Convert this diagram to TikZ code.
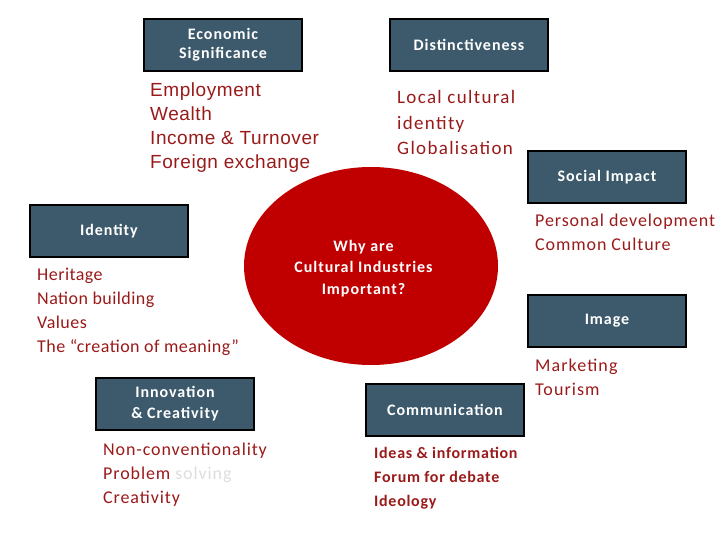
\documentclass[tikz,border=0pt]{standalone}
\usepackage{fontspec}
\setmainfont{Carlito}
\newfontfamily\arialf[LetterSpace=3]{Liberation Sans}
\usetikzlibrary{shapes.geometric}
\definecolor{boxfill}{HTML}{3D5A6C}
\definecolor{txtred}{HTML}{9A1A1A}
\definecolor{ellred}{HTML}{C00000}
\definecolor{lightg}{HTML}{DDDDDD}
\tikzset{
  topicbox/.style={draw=black, line width=1.6pt, fill=boxfill, minimum width=158pt, minimum height=52pt, inner sep=0pt, text=white, font=\fontsize{16}{19}\selectfont\bfseries\addfontfeature{LetterSpace=6}, align=center},
  itemtxt/.style={anchor=base west, inner sep=0pt, text=txtred},
}
\begin{document}
\begin{tikzpicture}[x=1pt,y=-1pt]
\useasboundingbox (0,0) rectangle (720,540);
% central ellipse
\node[ellipse, fill=ellred, minimum width=254pt, minimum height=198pt, inner sep=0pt] (core) at (371,266) {};
\node[text=white, font=\fontsize{16}{21.5}\selectfont\bfseries\addfontfeature{LetterSpace=6}, align=center, anchor=base, inner sep=0pt] (coretxt) at (363.5,294) {Why are\\Cultural Industries\\Important?};
% boxes
\node[topicbox] (econ) at (223,45) {Economic\\Significance};
\node[topicbox] (dist) at (469,45) {Distinctiveness};
\node[topicbox] (soc) at (607,177) {Social Impact};
\node[topicbox] (iden) at (109,231) {Identity};
\node[topicbox] (img) at (607,321) {Image};
\node[topicbox, font=\fontsize{16}{21}\selectfont\bfseries\addfontfeature{LetterSpace=6}] (inno) at (175,404) {Innovation\\\& Creativity};
\node[topicbox] (comm) at (445,410) {Communication};
% item lists
\foreach \t [count=\i from 0] in {Employment, Wealth, Income \& Turnover, Foreign exchange}
  \node[itemtxt, font=\arialf\fontsize{19}{22}\selectfont] (e\i) at (150,97+24*\i) {\t};
\foreach \t [count=\i from 0] in {Local cultural, identity, Globalisation}
  \node[itemtxt, font=\fontsize{19}{23}\selectfont\addfontfeature{LetterSpace=7}] (d\i) at (397,104+25.5*\i) {\t};
\foreach \t [count=\i from 0] in {Personal development, Common Culture}
  \node[itemtxt, font=\fontsize{18}{22}\selectfont\addfontfeature{LetterSpace=5}] (s\i) at (535,226+24*\i) {\t};
\foreach \t [count=\i from 0] in {Heritage, Nation building, Values, The “creation of meaning”}
  \node[itemtxt, font=\fontsize{18}{22}\selectfont\addfontfeature{LetterSpace=2.5}] (h\i) at (37,280+24*\i) {\t};
\foreach \t [count=\i from 0] in {Marketing, Tourism}
  \node[itemtxt, font=\fontsize{18}{22}\selectfont\addfontfeature{LetterSpace=6}] (m\i) at (535,371+24*\i) {\t};
\foreach \t [count=\i from 0] in {Non-conventionality, {Problem \textcolor{lightg}{solving}}, Creativity}
  \node[itemtxt, font=\fontsize{18}{22}\selectfont\addfontfeature{LetterSpace=5}] (n\i) at (103,455+24*\i) {\t};
\foreach \t [count=\i from 0] in {Ideas \& information, Forum for debate, Ideology}
  \node[itemtxt, font=\fontsize{16}{20}\selectfont\bfseries\addfontfeature{LetterSpace=4.5}] (c\i) at (374,458+24*\i) {\t};
\end{tikzpicture}
\end{document}
